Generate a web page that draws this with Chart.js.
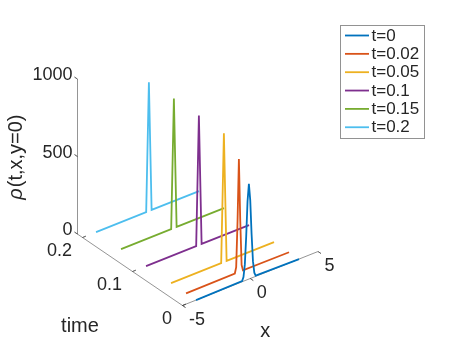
<!DOCTYPE html>
<html>
<head>
<meta charset="utf-8">
<script src="https://cdn.jsdelivr.net/npm/chart.js@4.4.0/dist/chart.umd.min.js"></script>
<style>
  html, body { margin: 0; padding: 0; background: #fff; }
  #wrap { width: 457px; height: 343px; }
</style>
</head>
<body>
<div id="wrap"><canvas id="rhoChart"></canvas></div>
<script>
// time slices and legend labels
const times = [0, 0.02, 0.05, 0.1, 0.15, 0.2];
const seriesLabels = ['t=0', 't=0.02', 't=0.05', 't=0.1', 't=0.15', 't=0.2'];
const seriesColors = ['#0072BD', '#D95319', '#EDB120', '#7E2F8E', '#77AC30', '#4DBEEE'];

// rho(t, x, y=0) along x, one pair of lists per time slice
const xT0 = [-4.0, -0.6, -0.5, -0.4, -0.3, -0.2, -0.1, 0, 0.1, 0.2, 0.3, 0.4, 3.6];
const rhoT0 = [0, 5, 27, 105, 280, 505, 615, 505, 280, 105, 27, 5, 0];
const xT002 = [-4.0, -0.4, -0.3, -0.2, -0.1, 0, 0.1, 0.2, 3.6];
const rhoT002 = [0, 2, 40, 330, 730, 330, 40, 2, 0];
const xT005 = [-4.0, -0.3, -0.1, 0.1, 3.6];
const rhoT005 = [0, 0, 830, 0, 0];
const xT01 = [-4.0, -0.3, -0.1, 0.1, 3.6];
const rhoT01 = [0, 0, 835, 0, 0];
const xT015 = [-4.0, -0.3, -0.1, 0.1, 3.6];
const rhoT015 = [0, 0, 835, 0, 0];
const xT02 = [-4.0, -0.3, -0.1, 0.1, 3.6];
const rhoT02 = [0, 0, 830, 0, 0];

const xSeries = [xT0, xT002, xT005, xT01, xT015, xT02];
const rhoSeries = [rhoT0, rhoT002, rhoT005, rhoT01, rhoT015, rhoT02];

// axes
const xLim = [-5, 5];
const tLim = [0, 0.21];
const rhoLim = [0, 1000];
const xTicks = [-5, 0, 5];
const tTicks = [0, 0.1, 0.2];
const rhoTicks = [0, 500, 1000];

// orthographic view: screen offset per unit of x, t and rho
const view = { ox: 250.25, oy: 278.5, xx: 13.55, xy: -5.4, tx: -500, ty: -340, zy: -0.155 };
function project(x, t, z) {
    return {
        x: view.ox + x * view.xx + t * view.tx,
        y: view.oy + x * view.xy + t * view.ty + z * view.zy
    };
}

const axisColor = 'rgba(38,38,38,0.55)';
const textColor = '#262626';
const fontFamily = '"Liberation Sans", Arial, sans-serif';

const datasets = [];
for (let i = 0; i < times.length; i++) {
    datasets.push({
        label: seriesLabels[i],
        data: xSeries[i].map((x, k) => project(x, times[i], rhoSeries[i][k])),
        borderColor: seriesColors[i],
        borderWidth: 1.8,
        showLine: true,
        pointRadius: 0,
        tension: 0,
        order: i
    });
}

// axis lines, with ticks going out and back
const xAxisPath = [];
xTicks.forEach(v => {
    xAxisPath.push(project(v, tLim[0], 0));
    xAxisPath.push(project(v, tLim[0] - 0.006, 0));
    xAxisPath.push(project(v, tLim[0], 0));
});
const tAxisPath = [project(xLim[0], tLim[0], 0)];
tTicks.forEach(v => {
    tAxisPath.push(project(xLim[0], v, 0));
    tAxisPath.push(project(xLim[0] + 0.25, v, 0));
    tAxisPath.push(project(xLim[0], v, 0));
});
tAxisPath.push(project(xLim[0], tLim[1], 0));
const zAxisPath = [];
rhoTicks.forEach(v => {
    zAxisPath.push(project(xLim[0], tLim[1], v));
    zAxisPath.push(project(xLim[0], tLim[1] + 0.006, v));
    zAxisPath.push(project(xLim[0], tLim[1], v));
});
[xAxisPath, tAxisPath, zAxisPath].forEach(path => {
    datasets.push({
        label: '',
        isAxis: true,
        data: path,
        borderColor: axisColor,
        borderWidth: 0.9,
        showLine: true,
        pointRadius: 0,
        order: 20
    });
});

const labelsPlugin = {
    id: 'axisText',
    afterDraw(chart) {
        const ctx = chart.ctx;
        const sx = chart.scales.x, sy = chart.scales.y;
        const px = p => [sx.getPixelForValue(p.x), sy.getPixelForValue(p.y)];
        ctx.save();
        ctx.fillStyle = textColor;
        ctx.textBaseline = 'middle';
        ctx.font = '18px ' + fontFamily;

        ctx.textAlign = 'left';
        xTicks.forEach(v => {
            const [a, b] = px(project(v, tLim[0], 0));
            ctx.fillText(String(v), a + 6.5, b + 15);
        });
        ctx.textAlign = 'right';
        tTicks.forEach(v => {
            const [a, b] = px(project(xLim[0], v, 0));
            ctx.fillText(String(v), a - 10.5, b + 13.5);
        });
        rhoTicks.forEach(v => {
            const [a, b] = px(project(xLim[0], tLim[1], v));
            ctx.fillText(String(v), a - 5, b - 4);
        });

        ctx.font = '20px ' + fontFamily;
        ctx.textAlign = 'center';
        let [a, b] = px(project(0, tLim[0], 0));
        ctx.fillText('x', a + 15, b + 53);
        [a, b] = px(project(xLim[0], (tLim[0] + tLim[1]) / 2, 0));
        ctx.fillText('time', a - 50, b + 57);

        // rotated rho label, greek letter in italics
        [a, b] = px(project(xLim[0], tLim[1], 500));
        ctx.translate(a - 61, b + 1);
        ctx.rotate(-Math.PI / 2);
        const rest = '(t,x,y=0)';
        ctx.font = 'italic 20px ' + fontFamily;
        const wRho = ctx.measureText('\u03C1').width;
        ctx.font = '20px ' + fontFamily;
        const wRest = ctx.measureText(rest).width;
        const x0 = -(wRho + wRest) / 2;
        ctx.textAlign = 'left';
        ctx.font = 'italic 20px ' + fontFamily;
        ctx.fillText('\u03C1', x0, 0);
        ctx.font = '20px ' + fontFamily;
        ctx.fillText(rest, x0 + wRho + 1, 0);
        ctx.restore();

        // legend box
        ctx.save();
        ctx.fillStyle = '#fff';
        ctx.strokeStyle = 'rgba(38,38,38,0.5)';
        ctx.lineWidth = 1;
        ctx.fillRect(340.5, 25.5, 84, 113);
        ctx.strokeRect(340.5, 25.5, 84, 113);
        ctx.font = '17px ' + fontFamily;
        ctx.textAlign = 'left';
        ctx.textBaseline = 'middle';
        chart.data.datasets.filter(d => !d.isAxis).forEach((d, i) => {
            const y = 35.5 + i * 18.35;
            ctx.strokeStyle = d.borderColor;
            ctx.lineWidth = 1.8;
            ctx.beginPath();
            ctx.moveTo(345, y);
            ctx.lineTo(369, y);
            ctx.stroke();
            ctx.fillStyle = textColor;
            ctx.fillText(d.label, 371.5, y + 0.5);
        });
        ctx.restore();
    }
};

new Chart(document.getElementById('rhoChart'), {
    type: 'scatter',
    data: { datasets: datasets },
    options: {
        responsive: true,
        maintainAspectRatio: false,
        animation: false,
        layout: { padding: 0 },
        plugins: { legend: { display: false }, tooltip: { enabled: false } },
        scales: {
            x: { type: 'linear', min: 0, max: 457, display: false },
            y: { type: 'linear', min: 0, max: 343, reverse: true, display: false }
        }
    },
    plugins: [labelsPlugin]
});
</script>
</body>
</html>
